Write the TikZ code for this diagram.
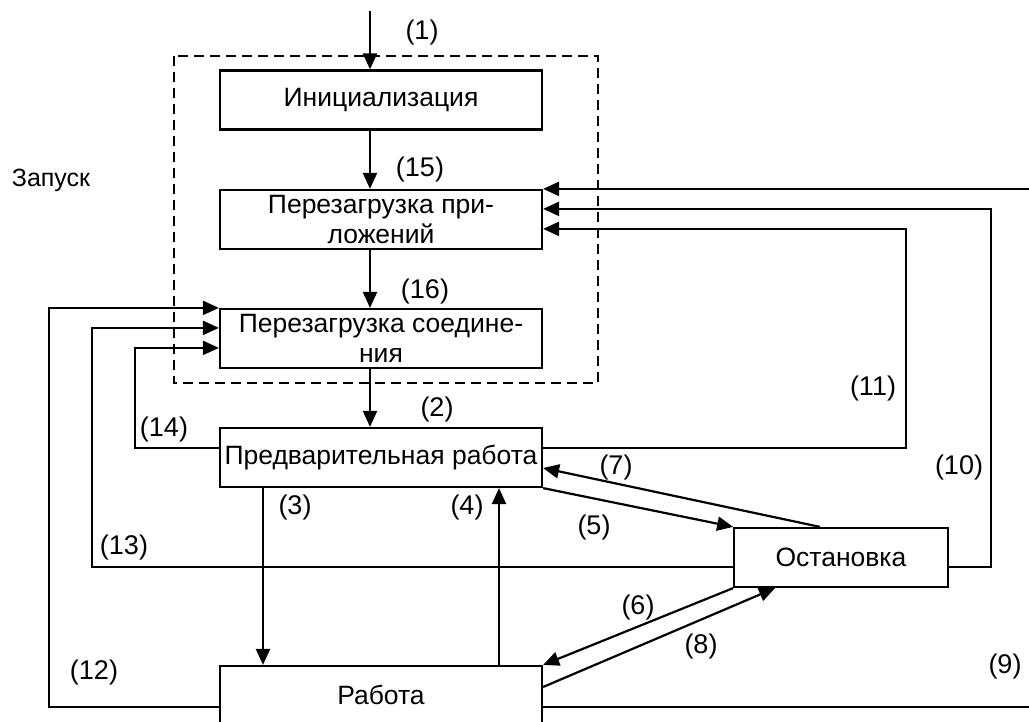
\documentclass[tikz,border=0pt]{standalone}
\usepackage{fontspec}
\setmainfont{Liberation Sans}
\usetikzlibrary{arrows.meta,calc}
\tikzset{
  box/.style={draw, line width=2.2pt, minimum width=322pt, minimum height=59pt, inner sep=0pt, align=center, font=\fontsize{26.5}{30}\selectfont},
  conn/.style={line width=2.2pt},
  arr/.style={conn, -{Triangle[length=16pt,width=14pt]}},
  lbl/.style={font=\fontsize{27}{30}\selectfont, inner sep=0pt},
  frame/.style={line width=2.2pt, dash pattern=on 10pt off 6pt}
}
\begin{document}
\begin{tikzpicture}[x=1pt,y=-1pt]
\useasboundingbox (0,0) rectangle (1029,722);
\fill[white] (0,0) rectangle (1029,722);
% dashed frame
\draw[frame] (174,56) rectangle (598,383);
% boxes
\node[box] (init) at (381,100) {Инициализация};
\node[box] (pp) at (381,219.5) {Перезагрузка при-\\ложений};
\node[box] (ps) at (381,338.5) {Перезагрузка соедине-\\ния};
\node[box] (pr) at (381,457.5) {Предварительная работа};
\node[box, minimum height=62pt] (rab) at (381,697) {\raisebox{4pt}{Работа}};
\node[box, minimum width=213.5pt] (ost) at (841,557.5) {Остановка};
% helper coordinates
\coordinate (top) at (370,11);
\coordinate (ax) at (370,0);
\coordinate (c3) at (263,0);
\coordinate (c4) at (499,0);
\coordinate (r9) at (1040,0);
\coordinate (r10) at (991,0);
\coordinate (r11) at (906,0);
\coordinate (l12) at (49,0);
\coordinate (l13) at (92,0);
\coordinate (l14) at (135,0);
% vertical main chain
\draw[arr] (top) -- (init.north -| ax);
\draw[arr] (init.south -| ax) -- (pp.north -| ax);
\draw[arr] (pp.south -| ax) -- (ps.north -| ax);
\draw[arr] (ps.south -| ax) -- (pr.north -| ax);
\draw[arr] (pr.south -| c3) -- (rab.north -| c3);
\draw[arr] (rab.north -| c4) -- (pr.south -| c4);
% diagonals
\draw[arr] (pr.south east) -- (ost.north west);
\draw[arr] ([xshift=-21pt]ost.north) -- ([yshift=-10.5pt]pr.east);
\draw[arr] (ost.south west) -- (rab.north east);
\draw[arr] ([yshift=10pt]rab.east) -- ([xshift=-66pt]ost.south);
% right loops
\draw[arr] ([yshift=-10pt]rab.east) -- ([yshift=-10pt]rab.east -| r9) -- (pp.north east -| r9) -- (pp.north east);
\draw[arr] ([yshift=-9.5pt]ost.east) -- ([yshift=-9.5pt]ost.east -| r10) -- ([yshift=-20pt]pp.north east -| r10) -- ([yshift=-20pt]pp.north east);
\draw[arr] ([yshift=9.5pt]pr.east) -- ([yshift=9.5pt]pr.east -| r11) -- ([yshift=-40pt]pp.north east -| r11) -- ([yshift=-40pt]pp.north east);
% left loops
\draw[arr] ([yshift=-10pt]rab.west) -- ([yshift=-10pt]rab.west -| l12) -- (ps.north west -| l12) -- (ps.north west);
\draw[arr] ([yshift=-9.5pt]ost.west) -- ([yshift=-9.5pt]ost.west -| l13) -- ([yshift=-20pt]ps.north west -| l13) -- ([yshift=-20pt]ps.north west);
\draw[arr] ([yshift=9.5pt]pr.west) -- ([yshift=9.5pt]pr.west -| l14) -- ([yshift=-40pt]ps.north west -| l14) -- ([yshift=-40pt]ps.north west);
% labels
\node[lbl] (t1) at (422,33) {(1)};
\node[lbl] (t15) at (420,170) {(15)};
\node[lbl] (t16) at (425,292) {(16)};
\node[lbl] (t2) at (437,410) {(2)};
\node[lbl] (t14) at (164,430) {(14)};
\node[lbl] (t3) at (295,508) {(3)};
\node[lbl] (t4) at (467,508) {(4)};
\node[lbl] (t5) at (594,528) {(5)};
\node[lbl] (t7) at (616,468) {(7)};
\node[lbl] (t6) at (638,608) {(6)};
\node[lbl] (t8) at (701,647) {(8)};
\node[lbl] (t9) at (1005,667) {(9)};
\node[lbl] (t10) at (959,468) {(10)};
\node[lbl] (t11) at (873,389) {(11)};
\node[lbl] (t12) at (94,673) {(12)};
\node[lbl] (t13) at (124,548) {(13)};
\node[lbl, font=\fontsize{25}{30}\selectfont] (zap) at (51,180) {Запуск};
\end{tikzpicture}
\end{document}
